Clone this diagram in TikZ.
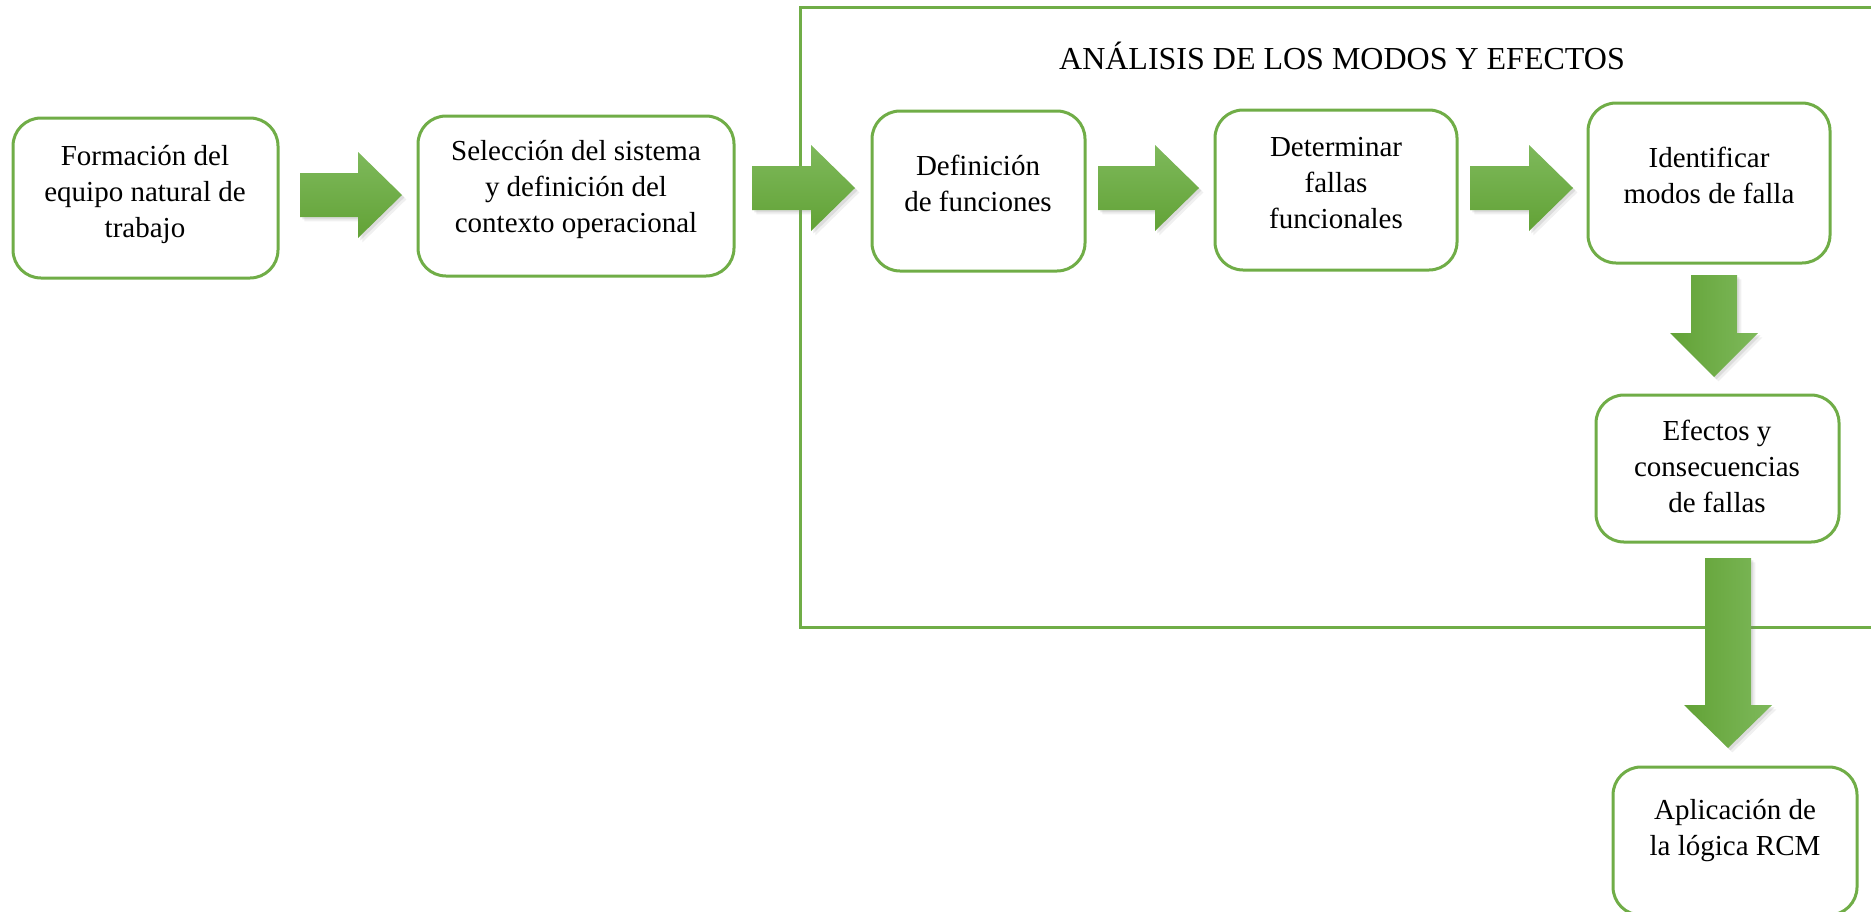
\documentclass[tikz,border=0pt]{standalone}
\usepackage{fontspec}
\setmainfont{Liberation Serif}
\usetikzlibrary{shadows}
\definecolor{framegreen}{HTML}{70AD47}
\definecolor{arrowlight}{HTML}{7EB95B}
\definecolor{arrowdark}{HTML}{62A236}

% block arrow pointing right: start x, head start x, tip x, centre y
\newcommand\RightBlock[4]{%
  \path[harrow] (#1,#4-22) -- (#2,#4-22) -- (#2,#4-43) -- (#3,#4)
    -- (#2,#4+43) -- (#2,#4+22) -- (#1,#4+22) -- cycle;}
% block arrow pointing down: centre x, top y, head start y, tip y
\newcommand\DownBlock[4]{%
  \path[varrow] (#1-23,#2) -- (#1+23,#2) -- (#1+23,#3) -- (#1+44,#3) -- (#1,#4)
    -- (#1-44,#3) -- (#1-23,#3) -- cycle;}

\begin{document}
\begin{tikzpicture}[x=0.5pt,y=-0.5pt,
  stepbox/.style={draw=framegreen, line width=1.5pt, rounded corners=14pt,
    fill=white, inner sep=0pt},
  txt/.style={align=center, inner sep=0pt,
    font=\fontsize{14.5}{18}\selectfont},
  softshadow/.style={
    drop shadow={opacity=0.12, shadow xshift=2.2pt, shadow yshift=-2.2pt},
    drop shadow={opacity=0.18, shadow xshift=1.2pt, shadow yshift=-1.2pt}},
  harrow/.style={top color=arrowlight, bottom color=arrowdark, softshadow},
  varrow/.style={left color=arrowdark, right color=arrowlight, softshadow}]
\useasboundingbox (0,0) rectangle (1871,911);

% frame around the failure-mode analysis stage
\draw[framegreen, line width=1.5pt] (1871,7) -- (800,7) -- (800,627) -- (1871,627);
\node[font=\fontsize{16}{19}\selectfont, inner sep=0pt] (title) at (1342,56)
  {ANÁLISIS DE LOS MODOS Y EFECTOS};

% process boxes
\node[stepbox, minimum width=132.5pt, minimum height=80pt] (b1) at (145.5,198) {};
\node[stepbox, minimum width=158pt, minimum height=80pt] (b2) at (576,196) {};
\node[stepbox, minimum width=106.5pt, minimum height=80pt] (b3) at (978.5,191) {};
\node[stepbox, minimum width=121pt, minimum height=80pt] (b4) at (1336,190) {};
\node[stepbox, minimum width=121pt, minimum height=80pt] (b5) at (1709,183) {};
\node[stepbox, minimum width=121.5pt, minimum height=73.5pt] (b6) at (1717.5,468.5) {};
\node[stepbox, minimum width=122pt, minimum height=74pt] (b7) at (1735,841) {};

% box texts
\node[txt] (t1) at (145,194) {Formación del\\equipo natural de\\trabajo};
\node[txt] (t2) at (576,189) {Selección del sistema\\y definición del\\contexto operacional};
\node[txt] (t3) at (978,183) {Definición\\de funciones};
\node[txt] (t4) at (1336,183) {Determinar\\fallas\\funcionales};
\node[txt] (t5) at (1709,175) {Identificar\\modos de falla};
\node[txt] (t6) at (1717,466) {Efectos y\\consecuencias\\de fallas};
\node[txt] (t7) at (1735,831) {Aplicación de\\la lógica RCM};

% block arrows between the stages
\RightBlock{300}{358}{402}{195}
\RightBlock{752}{811}{855}{188}
\RightBlock{1098}{1155}{1199}{188}
\RightBlock{1470}{1529}{1573}{188}
\DownBlock{1714}{275}{333}{377}
\DownBlock{1728}{558}{705}{748}
\end{tikzpicture}
\end{document}
